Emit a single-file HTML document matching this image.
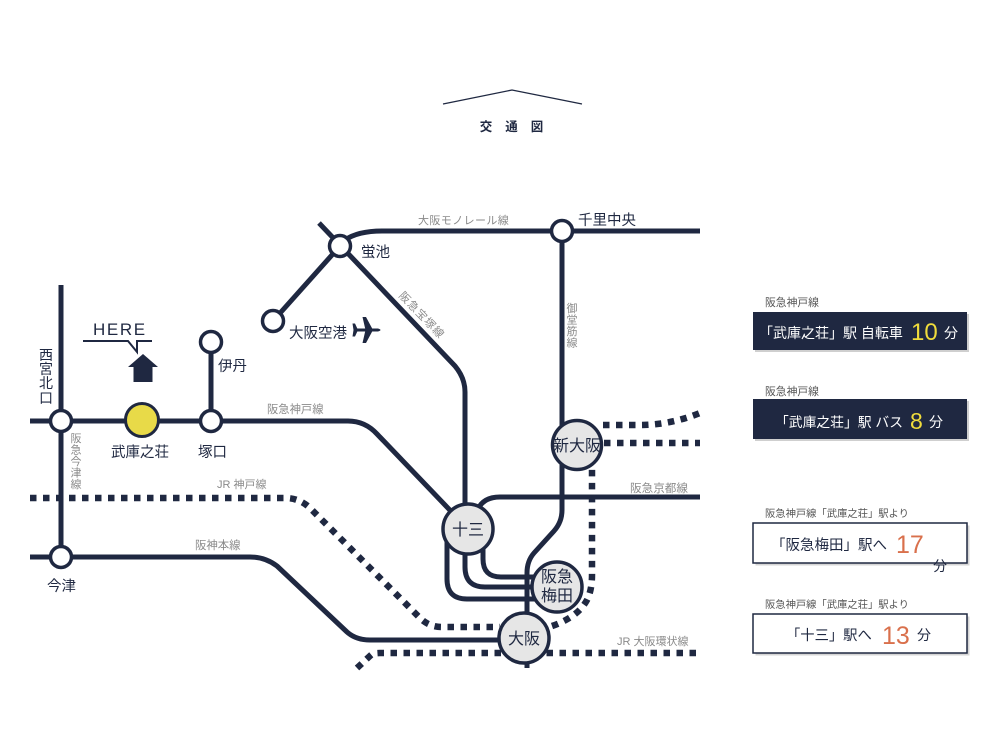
<!DOCTYPE html>
<html><head><meta charset="utf-8">
<style>
html,body{margin:0;padding:0;background:#fff;}
body{width:1000px;height:750px;overflow:hidden;position:relative;}
svg{position:absolute;left:0;top:0;}
text{font-family:"Liberation Sans","Noto Sans CJK JP",sans-serif;}
</style></head>
<body>
<svg width="1000" height="750" viewBox="0 0 1000 750" xmlns="http://www.w3.org/2000/svg">
<rect width="1000" height="750" fill="#fff"/>
<!-- title -->
<polyline points="443,104 512,90 582,104" fill="none" stroke="#1f2841" stroke-width="1.3"/>
<g font-size="12.5" font-weight="bold" fill="#1f2841" text-anchor="middle">
<text x="486" y="131">交</text><text x="511.5" y="131">通</text><text x="537" y="131">図</text>
</g>

<g fill="none" stroke="#1f2841" stroke-width="5" stroke-linecap="butt" stroke-linejoin="round">
<!-- dotted JR lines -->
<g stroke-width="6.5" stroke-dasharray="6.5 6.5">
<path d="M30,498 H285 Q300,498 311,509 L420,618 Q429,627 442,627 H500"/>
<path d="M552,626 Q578,617 587,600 Q592,590 592,575 V462"/>
<path d="M357,668 L371,655 Q373,653 380,653 H700"/>
<path d="M603,425 H640 Q670,425 700,413"/>
<path d="M604,443 H700"/>
</g>
<!-- Hankyu Kobe -->
<path d="M30,421 H348 Q365,421 377,434 L468,529"/>
<!-- Imazu -->
<path d="M61,285 V557"/>
<!-- Itami -->
<path d="M211,342 V421"/>
<!-- Hanshin -->
<path d="M30,557 H250 Q265,557 277,566 L347,632 Q356,640 370,640 H524"/>
<!-- Takarazuka -->
<path d="M319,223 L455,366 Q465,378 465,392 V529"/>
<!-- Airport -->
<path d="M340,246 L273,321"/>
<!-- Monorail -->
<path d="M345,240 Q358,231 382,231 H700"/>
<!-- Midosuji -->
<path d="M562,231 V510 Q562,522 554,531 L534,553 Q527,561 527,573 V668"/>
<!-- Kyoto -->
<path d="M476,515 Q480,497 500,497 H700"/>
<!-- three lines to Umeda -->
<path d="M447,529 V579 Q447,599 467,599 H545"/>
<path d="M465,529 V567 Q465,587 485,587 H545"/>
<path d="M483,540 V559 Q483,577 501,577 H545"/>
</g>

<!-- small stations -->
<g fill="#fff" stroke="#1f2841" stroke-width="3.5">
<circle cx="61" cy="421" r="10.5"/>
<circle cx="211" cy="421" r="10.5"/>
<circle cx="211" cy="342" r="10.5"/>
<circle cx="61" cy="557" r="10.5"/>
<circle cx="340" cy="246" r="10.5"/>
<circle cx="273" cy="321" r="10.5"/>
<circle cx="562" cy="231" r="10.5"/>
</g>
<circle cx="142" cy="420" r="16.5" fill="#e8da48" stroke="#1f2841" stroke-width="3"/>
<!-- big stations -->
<g fill="#e6e6e6" stroke="#1f2841" stroke-width="3.5">
<circle cx="577" cy="445" r="24.5"/>
<circle cx="468" cy="529" r="25"/>
<circle cx="557" cy="587" r="25"/>
<circle cx="524" cy="638" r="25"/>
</g>
<g fill="#1f2841" font-size="16" text-anchor="middle">
<text x="577" y="451">新大阪</text>
<text x="468" y="535">十三</text>
<text x="557" y="582">阪急</text>
<text x="557" y="601">梅田</text>
<text x="524" y="644">大阪</text>
</g>

<!-- station labels -->
<g fill="#1f2841" font-size="14.5">
<text x="578" y="225">千里中央</text>
<text x="361" y="257">蛍池</text>
<text x="289" y="338">大阪空港</text>
<text x="218" y="371">伊丹</text>
<text x="111" y="457">武庫之荘</text>
<text x="198" y="457">塚口</text>
<text x="47" y="591">今津</text>
</g>
<g fill="#1f2841" font-size="14" text-anchor="middle">
<text x="46" y="360">西</text><text x="46" y="374">宮</text><text x="46" y="388">北</text><text x="46" y="403">口</text>
</g>

<!-- plane -->
<g fill="#1f2841">
<path d="M354,328.5 H378 Q383,330 378,331.5 H354 Z"/>
<path d="M373,330 L366,317 H362.5 L365.5,330 L362.5,343 H366 Z"/>
<path d="M358,330 L355,323.5 H352.5 L353.5,330 L352.5,336.5 H355 Z"/>
</g>

<!-- HERE -->
<text x="93" y="335" font-size="17" fill="#1f2841" letter-spacing="1.6">HERE</text>
<polyline points="83,341 128,341 137,352 137,341 152,341" fill="none" stroke="#1f2841" stroke-width="2"/>
<path d="M143,354 L158,367 H152.5 V382 H133.5 V367 H128 Z" fill="#1f2841"/>

<!-- gray line labels -->
<g fill="#8a8a8a" font-size="11">
<text x="418" y="224" letter-spacing="0.4">大阪モノレール線</text>
<text x="267" y="413" font-size="11.3">阪急神戸線</text>
<text x="217" y="488">JR 神戸線</text>
<text x="195" y="549" font-size="11.4">阪神本線</text>
<text x="630" y="492" font-size="11.6">阪急京都線</text>
<text x="617" y="645">JR 大阪環状線</text>
<text x="422" y="319" text-anchor="middle" letter-spacing="1" transform="rotate(46 422 315)">阪急宝塚線</text>
</g>
<g fill="#8a8a8a" font-size="11" text-anchor="middle">
<text x="76" y="442">阪</text><text x="76" y="453.5">急</text><text x="76" y="465">今</text><text x="76" y="476.5">津</text><text x="76" y="488">線</text>
<text x="572" y="312">御</text><text x="572" y="323.5">堂</text><text x="572" y="335">筋</text><text x="572" y="346.5">線</text>
</g>

<!-- right side info boxes -->
<g fill="#555" font-size="10.8">
<text x="765" y="306">阪急神戸線</text>
<text x="765" y="395">阪急神戸線</text>
<text x="765" y="517" font-size="10.3">阪急神戸線「武庫之荘」駅より</text>
<text x="765" y="608" font-size="10.3">阪急神戸線「武庫之荘」駅より</text>
</g>
<rect x="755" y="314" width="214" height="38" fill="#cfcfcf"/>
<rect x="753" y="312" width="214" height="38" fill="#1f2841"/>
<rect x="755" y="401" width="214" height="40" fill="#cfcfcf"/>
<rect x="753" y="399" width="214" height="40" fill="#1f2841"/>
<rect x="755.5" y="525.5" width="214" height="40" fill="#d5d5d5"/>
<rect x="753" y="523" width="214" height="40" fill="#fff" stroke="#1f2841" stroke-width="1.5"/>
<rect x="755.5" y="616.5" width="214" height="39" fill="#d5d5d5"/>
<rect x="753" y="614" width="214" height="39" fill="#fff" stroke="#1f2841" stroke-width="1.5"/>

<text x="759" y="338" font-size="14" fill="#fff">「武庫之荘」駅 自転車</text>
<text x="911" y="340" font-size="24" fill="#f0dc3c">10</text>
<text x="944" y="338" font-size="14" fill="#fff">分</text>

<text x="775" y="427" font-size="13.8" fill="#fff">「武庫之荘」駅 バス</text>
<text x="910" y="429" font-size="23" fill="#f0dc3c">8</text>
<text x="929" y="427" font-size="14" fill="#fff">分</text>

<text x="771" y="550" font-size="14.5" fill="#1f2841">「阪急梅田」駅へ</text>
<text x="896" y="553" font-size="25" fill="#d9704c">17</text>
<text x="933" y="571" font-size="14" fill="#1f2841">分</text>

<text x="786" y="640" font-size="14.3" fill="#1f2841">「十三」駅へ</text>
<text x="882" y="644" font-size="25" fill="#d9704c">13</text>
<text x="917" y="640" font-size="14" fill="#1f2841">分</text>
</svg>
</body></html>
